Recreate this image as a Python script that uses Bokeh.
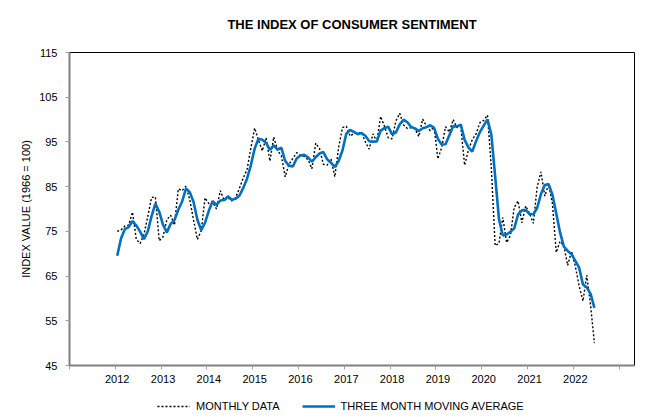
from bokeh.plotting import figure
from bokeh.layouts import column
from bokeh.models import FixedTicker, Legend, LegendItem, ColumnDataSource
from bokeh.embed import file_html
from bokeh.resources import INLINE

# Monthly Index of Consumer Sentiment, Jan 2012 - Jun 2022
monthly = [
    75.0, 75.3, 76.2, 76.4, 79.3, 73.2, 72.3, 74.3, 78.3, 82.6, 82.7, 72.9,   # 2012
    73.8, 77.6, 78.6, 76.4, 84.5, 84.1, 85.1, 82.1, 77.5, 73.2, 75.1, 82.5,   # 2013
    81.2, 81.6, 80.0, 84.1, 81.9, 82.5, 81.8, 82.5, 84.6, 86.9, 88.8, 93.6,   # 2014
    98.1, 95.4, 93.0, 95.9, 90.7, 96.1, 93.1, 91.9, 87.2, 90.0, 91.3, 92.6,   # 2015
    92.0, 91.7, 91.0, 89.0, 94.7, 93.5, 90.0, 89.8, 91.2, 87.2, 93.8, 98.2,   # 2016
    98.5, 96.3, 96.9, 97.0, 97.1, 95.0, 93.4, 96.8, 95.1, 100.7, 98.5, 95.9,  # 2017
    95.7, 99.7, 101.4, 98.8, 98.0, 98.2, 97.9, 96.2, 100.1, 98.6, 97.5, 98.3, # 2018
    91.2, 93.8, 98.4, 97.2, 100.0, 98.2, 98.4, 89.8, 93.2, 95.5, 96.8, 99.3,  # 2019
    99.8, 101.0, 89.1, 71.8, 72.3, 78.1, 72.5, 74.1, 80.4, 81.8, 76.9, 80.7,  # 2020
    79.0, 76.8, 84.9, 88.3, 82.9, 85.5, 81.2, 70.3, 72.8, 71.7, 67.4, 70.6,   # 2021
    67.2, 62.8, 59.4, 65.2, 58.4, 50.0,                                       # 2022
]

# Three month moving average, Jan 2012 - Jun 2022
moving_avg = [
    69.53, 73.40, 75.50, 75.97, 77.30, 76.30, 74.93, 73.27, 74.97, 78.40, 81.20, 79.40,
    76.47, 74.77, 76.67, 77.53, 79.83, 81.67, 84.57, 83.77, 81.57, 77.60, 75.27, 76.93,
    79.60, 81.77, 80.93, 81.90, 82.00, 82.83, 82.07, 82.27, 82.97, 84.67, 86.77, 89.77,
    93.50, 95.70, 95.50, 94.77, 93.20, 94.23, 93.30, 93.70, 90.73, 89.70, 89.50, 91.30,
    91.97, 92.10, 91.57, 90.57, 91.57, 92.40, 92.73, 91.10, 90.33, 89.40, 90.73, 93.07,
    96.83, 97.67, 97.23, 96.73, 97.00, 96.37, 95.17, 95.07, 95.10, 97.53, 98.10, 98.37,
    96.70, 97.10, 98.93, 99.97, 99.40, 98.33, 98.03, 97.43, 98.07, 98.30, 98.73, 98.13,
    95.67, 94.43, 94.47, 96.47, 98.53, 98.47, 98.87, 95.47, 93.80, 92.83, 95.17, 97.20,
    98.63, 100.03, 96.63, 87.30, 77.73, 74.07, 74.30, 74.90, 75.67, 78.77, 79.70, 79.80,
    78.87, 78.83, 80.23, 83.33, 85.37, 85.57, 83.20, 79.00, 74.77, 71.60, 70.63, 69.90,
    68.40, 66.87, 63.13, 62.47, 61.00, 57.87,
]

year_labels = ["2012", "2013", "2014", "2015", "2016", "2017",
               "2018", "2019", "2020", "2021", "2022"]
y_ticks = [45, 55, 65, 75, 85, 95, 105, 115]
series_names = ["MONTHLY DATA", "THREE MONTH MOVING AVERAGE"]
chart_title = "THE INDEX OF CONSUMER SENTIMENT"

# month index (0 = Jan 2012)
month_idx = list(range(len(monthly)))
src = ColumnDataSource(dict(x=month_idx, monthly=monthly, ma=moving_avg))

FONT = "Liberation Sans"
DOT = dict(line_color="#000000", line_width=1.4, line_dash="2 2")
BLUE = dict(line_color="#0070C0", line_width=2.6)


def bare(fig):
    fig.grid.visible = False
    fig.outline_line_color = None
    fig.background_fill_color = "white"
    fig.border_fill_color = "white"


# ---- title strip ----
pt = figure(width=660, height=47, output_backend="svg", toolbar_location=None,
            x_axis_location=None, y_axis_location=None, min_border=0,
            x_range=(0, 1), y_range=(0, 1))
bare(pt)
pt.title.text = chart_title
pt.title.align = "center"
pt.title.text_font = FONT
pt.title.text_font_size = "13px"
pt.title.text_font_style = "bold"
pt.title.text_color = "#000000"
pt.title.standoff = 29

# ---- main chart ----
p = figure(width=660, height=345, x_range=(-12.5, 135.5), y_range=(45, 115),
           output_backend="svg", toolbar_location=None,
           min_border_left=69, min_border_right=26, min_border_top=5,
           min_border_bottom=27)
p.grid.visible = False
p.outline_line_color = "#000000"
p.outline_line_width = 1
p.background_fill_color = "white"
p.border_fill_color = "white"

p.line("x", "monthly", source=src, **DOT)
p.line("x", "ma", source=src, **BLUE)

label_pos = [12 * i for i in range(len(year_labels))]
boundaries = [-12.5 + 12 * i for i in range(13)]
xa = p.xaxis[0]
xa.ticker = FixedTicker(ticks=label_pos, minor_ticks=boundaries)
xa.major_label_overrides = {pos: lab for pos, lab in zip(label_pos, year_labels)}
xa.major_tick_out = 0
xa.major_tick_in = 0
xa.minor_tick_out = 4
xa.minor_tick_in = 0
xa.minor_tick_line_color = "#a0a0a0"
xa.axis_line_color = "#808080"
xa.axis_line_width = 2
xa.major_label_text_font = FONT
xa.major_label_text_font_size = "11px"
xa.major_label_text_color = "#000000"
xa.major_label_standoff = 5

ya = p.yaxis[0]
ya.ticker = FixedTicker(ticks=y_ticks, minor_ticks=[])
ya.major_tick_out = 4
ya.major_tick_in = 0
ya.major_tick_line_color = "#a0a0a0"
ya.minor_tick_out = 0
ya.minor_tick_in = 0
ya.axis_line_color = "#808080"
ya.axis_line_width = 2
ya.major_label_text_font = FONT
ya.major_label_text_font_size = "11px"
ya.major_label_text_color = "#000000"
ya.major_label_standoff = 8
ya.axis_label = "INDEX VALUE (1966 = 100)"
ya.axis_label_text_font = FONT
ya.axis_label_text_font_size = "11px"
ya.axis_label_text_font_style = "normal"
ya.axis_label_text_color = "#000000"
ya.axis_label_standoff = 4

# ---- legend strip (series drawn out of view; only the legend shows) ----
pl = figure(width=660, height=25, output_backend="svg", toolbar_location=None,
            x_axis_location=None, y_axis_location=None, min_border=0,
            x_range=(0, 1), y_range=(0, 1))
bare(pl)
l1 = pl.line("x", "monthly", source=src, **DOT)
l2 = pl.line("x", "ma", source=src, **BLUE)

legend = Legend(items=[LegendItem(label=series_names[0], renderers=[l1]),
                       LegendItem(label=series_names[1], renderers=[l2])],
                orientation="horizontal", location=(88, 5),
                glyph_width=33, glyph_height=12, label_height=12,
                label_standoff=6, spacing=22, padding=0, margin=0,
                border_line_color=None, background_fill_alpha=0,
                label_text_font=FONT, label_text_font_size="11px",
                label_text_color="#000000")
pl.add_layout(legend, "center")

layout = column(pt, p, pl, spacing=0)
open("out.html", "w").write(file_html(layout, INLINE))
